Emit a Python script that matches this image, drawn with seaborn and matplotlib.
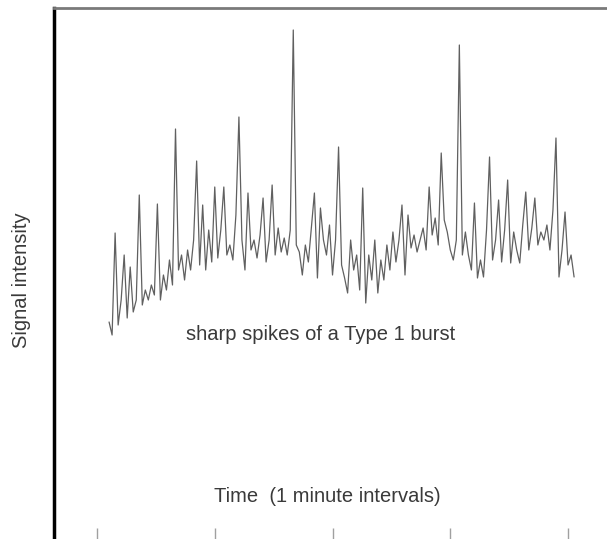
import numpy as np
import pandas as pd
import matplotlib
matplotlib.use("Agg")
import matplotlib.pyplot as plt
import seaborn as sns

# Signal intensity sampled at 1-minute intervals (arbitrary units)
minutes = list(range(4, 159))
intensity = [
    78, 65, 167, 75, 100, 145, 82, 133, 88, 100,
    205, 95, 110, 100, 115, 105, 196, 100, 125, 110,
    140, 115, 271, 130, 145, 120, 150, 130, 160, 239,
    135, 195, 130, 170, 138, 213, 142, 170, 213, 145,
    155, 140, 185, 283, 160, 130, 207, 150, 160, 142,
    165, 202, 138, 160, 215, 145, 172, 148, 162, 145,
    170, 370, 155, 148, 125, 155, 138, 172, 207, 122,
    192, 160, 145, 175, 125, 160, 253, 135, 122, 107,
    160, 130, 145, 110, 212, 97, 145, 120, 160, 107,
    140, 120, 155, 130, 168, 138, 160, 195, 125, 185,
    152, 165, 148, 160, 172, 150, 213, 165, 182, 155,
    247, 180, 168, 150, 140, 160, 355, 145, 168, 145,
    130, 197, 122, 140, 123, 170, 243, 140, 160, 200,
    138, 170, 220, 137, 168, 150, 137, 175, 208, 150,
    172, 202, 155, 168, 160, 175, 150, 190, 262, 123,
    150, 188, 135, 145, 123,
]
time_ticks = [0, 39, 78, 117, 156]

df = pd.DataFrame({"minute": minutes, "intensity": intensity})

sns.set_style("white")
plt.rcParams["font.family"] = ["Liberation Sans", "DejaVu Sans"]

fig = plt.figure(figsize=(6.07, 5.39), dpi=100)
ax = fig.add_axes([54 / 607, 0.0, 1 - 54 / 607, 1 - 8 / 539])

sns.lineplot(data=df, x="minute", y="intensity", ax=ax,
             color="#606060", linewidth=0.9)

ax.set_xlim(-14.24, 168.9)
ax.set_ylim(-139, 392)

ax.set_xticks(time_ticks)
ax.set_xticklabels([])
ax.set_yticks([])
ax.tick_params(axis="x", direction="in", length=8, width=1,
               color="#a0a0a0", bottom=True, pad=0)
ax.set_xlabel("")
ax.set_ylabel("")

for side in ("right", "bottom"):
    ax.spines[side].set_visible(False)
ax.spines["left"].set_color("black")
ax.spines["left"].set_linewidth(2.5)
ax.spines["top"].set_color("#7a7a7a")
ax.spines["top"].set_linewidth(2.0)

label_style = dict(ha="center", va="center", fontsize=14.5, color="#3a3a3a")
fig.text(321 / 607, 1 - 335 / 539, "sharp spikes of a Type 1 burst", **label_style)
fig.text(327 / 607, 1 - 497 / 539, "Time  (1 minute intervals)", **label_style)
fig.text(22 / 607, 1 - 280 / 539, "Signal intensity", rotation=90, **label_style)

fig.savefig("out.png", dpi=100)
